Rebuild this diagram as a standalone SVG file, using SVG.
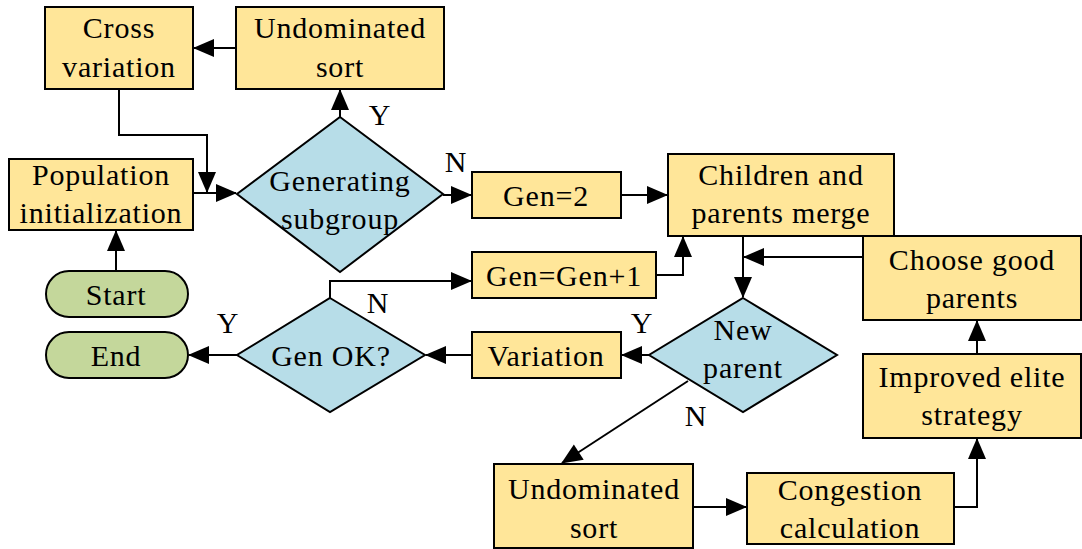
<svg xmlns="http://www.w3.org/2000/svg" width="1082" height="549" viewBox="0 0 1082 549">
  <style>
    .proc { fill: #FFE699; stroke: #000; stroke-width: 2; }
    .dec { fill: #B7DDE8; stroke: #000; stroke-width: 2; }
    .term { fill: #C4D79B; stroke: #000; stroke-width: 2; }
    text { font-size: 30px; fill: #000; text-anchor: middle; letter-spacing: 0.8px; }
    .conn path { fill: none; stroke: #000; stroke-width: 2; marker-end: url(#arrow); }
  </style>
  <defs>
    <marker id="arrow" markerUnits="userSpaceOnUse" markerWidth="21" markerHeight="18" refX="20" refY="9" orient="auto" overflow="visible">
      <path d="M0,0 L21,9 L0,18 Z" fill="#000"/>
    </marker>
  </defs>
  <rect width="1082" height="549" fill="#fff"/>

  <g class="conn" id="connectors">
    <path d="M236,48 H194"/>
    <path d="M340,117 V90"/>
    <path d="M119,89 V135 H207 V192"/>
    <path d="M193,193 H236"/>
    <path d="M116,270 V231"/>
    <path d="M443,195 H471"/>
    <path d="M621,195 H667"/>
    <path d="M656,275 H683 V237"/>
    <path d="M743,236 V297"/>
    <path d="M863,257 H744"/>
    <path d="M649,355 H622"/>
    <path d="M472,355 H426"/>
    <path d="M237,355 H189"/>
    <path d="M330,298 V281 H471"/>
    <path d="M688,381 L562,463"/>
    <path d="M693,507 H746"/>
    <path d="M954,507 H977 V439"/>
    <path d="M977,354 V321"/>
  </g>

  <g font-family="'Liberation Serif', 'DejaVu Serif', serif">
  <g id="cross-variation">
    <rect class="proc" x="45" y="7" width="148" height="82"/>
    <text x="119" y="38">Cross</text>
    <text x="119" y="77">variation</text>
  </g>
  <g id="undominated-sort-1">
    <rect class="proc" x="236" y="7" width="208" height="82"/>
    <text x="340" y="38">Undominated</text>
    <text x="340" y="77">sort</text>
  </g>
  <g id="population-init">
    <rect class="proc" x="9" y="159" width="184" height="71"/>
    <text x="101" y="185">Population</text>
    <text x="101" y="223">initialization</text>
  </g>
  <g id="generating-subgroup">
    <polygon class="dec" points="340,117 443,194 340,272 237,194"/>
    <text x="340" y="191">Generating</text>
    <text x="340" y="229">subgroup</text>
  </g>
  <g id="start">
    <rect class="term" x="46" y="271" width="142" height="46" rx="23"/>
    <text x="116" y="305">Start</text>
  </g>
  <g id="end">
    <rect class="term" x="46" y="332" width="142" height="46" rx="23"/>
    <text x="116" y="366">End</text>
  </g>
  <g id="gen-ok">
    <polygon class="dec" points="330,298 425,355 330,412 237,355"/>
    <text x="331" y="366">Gen OK?</text>
  </g>
  <g id="gen-2">
    <rect class="proc" x="472" y="172" width="149" height="46"/>
    <text x="546" y="206">Gen=2</text>
  </g>
  <g id="gen-inc">
    <rect class="proc" x="472" y="252" width="184" height="46"/>
    <text x="564" y="286">Gen=Gen+1</text>
  </g>
  <g id="merge">
    <rect class="proc" x="668" y="154" width="226" height="82"/>
    <text x="781" y="185">Children and</text>
    <text x="781" y="223">parents merge</text>
  </g>
  <g id="choose-parents">
    <rect class="proc" x="863" y="236" width="218" height="84"/>
    <text x="972" y="270">Choose good</text>
    <text x="972" y="308">parents</text>
  </g>
  <g id="variation">
    <rect class="proc" x="472" y="332" width="149" height="46"/>
    <text x="546" y="366">Variation</text>
  </g>
  <g id="new-parent">
    <polygon class="dec" points="743,298 837,355 743,412 649,355"/>
    <text x="743" y="340">New</text>
    <text x="743" y="378">parent</text>
  </g>
  <g id="improved-elite">
    <rect class="proc" x="863" y="354" width="218" height="84"/>
    <text x="972" y="387">Improved elite</text>
    <text x="972" y="425">strategy</text>
  </g>
  <g id="undominated-sort-2">
    <rect class="proc" x="494" y="464" width="199" height="84"/>
    <text x="594" y="499">Undominated</text>
    <text x="594" y="538">sort</text>
  </g>
  <g id="congestion">
    <rect class="proc" x="747" y="473" width="207" height="71"/>
    <text x="850" y="500">Congestion</text>
    <text x="850" y="538">calculation</text>
  </g>

  <g id="branch-labels">
    <text x="380" y="125">Y</text>
    <text x="456" y="172">N</text>
    <text x="378" y="313">N</text>
    <text x="228" y="333">Y</text>
    <text x="642" y="333">Y</text>
    <text x="696" y="426">N</text>
  </g>
  </g>
</svg>
